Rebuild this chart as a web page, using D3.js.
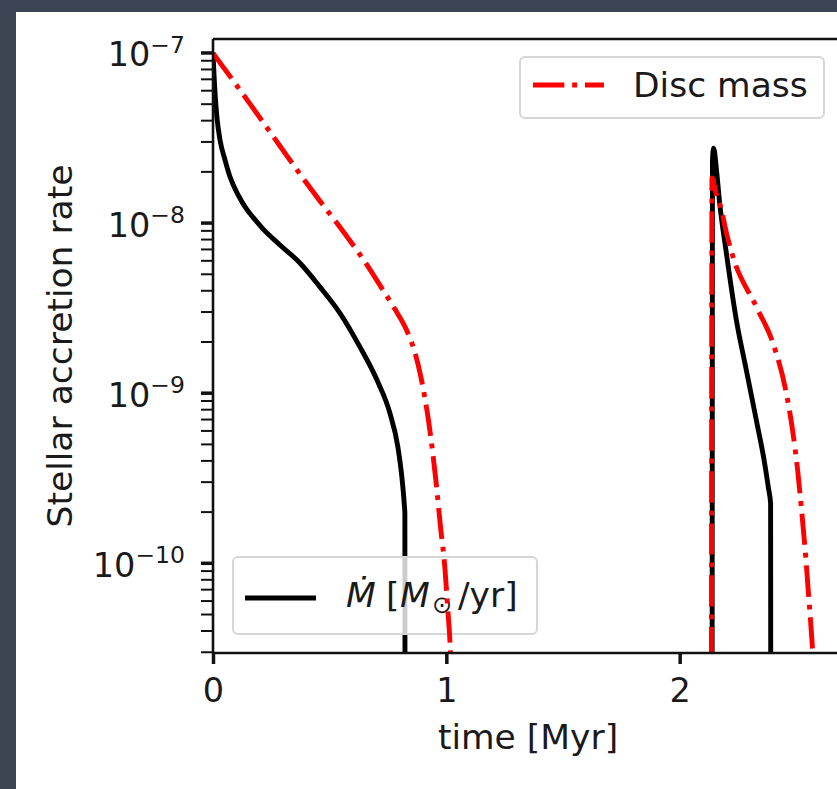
<!DOCTYPE html>
<html>
<head>
<meta charset="utf-8">
<script src="https://cdn.jsdelivr.net/npm/d3@7"></script>
<style>
  html, body { margin: 0; padding: 0; background: #3d4454; }
  svg { display: block; }
  text { font-family: "DejaVu Sans", sans-serif; fill: #1a1a1a; }
</style>
</head>
<body>
<div id="chart"></div>
<script>
// stellar accretion rate, black solid (0 = no accretion)
var mdotTime = [0, 0.0043, 0.0107, 0.0171, 0.030, 0.0514, 0.0728, 0.107, 0.1456, 0.1799,
                0.2141, 0.2869, 0.3726, 0.4582, 0.5439, 0.6296, 0.7024, 0.758, 0.7923,
                0.8094, 0.8201, 0.8223, 0.823,
                2.139, 2.1405, 2.1456, 2.1585, 2.1713, 2.2, 2.2428, 2.2856, 2.3285,
                2.364, 2.3812, 2.3897, 2.3905, 2.7];
var mdotVal  = [1.0e-7, 7.4e-8, 5.27e-8, 4.13e-8, 3.06e-8, 2.34e-8, 1.86e-8, 1.46e-8, 1.19e-8, 1.04e-8,
                9.18e-9, 7.39e-9, 5.79e-9, 4.19e-9, 2.94e-9, 1.86e-9, 1.19e-9, 7.6e-10, 4.8e-10,
                3.19e-10, 2.18e-10, 1.96e-10, 0,
                0, 2.3e-8, 2.74e-8, 1.99e-8, 1.31e-8, 6.64e-9, 2.68e-9, 1.36e-9, 6.9e-10,
                3.86e-10, 2.71e-10, 2.24e-10, 0, 0];

// disc mass, red dash-dot
var discTime = [0, 0.1585, 0.2869, 0.3726, 0.4582, 0.5653, 0.651, 0.7281, 0.7794, 0.8308,
                0.8651, 0.8908, 0.9251, 0.955, 0.9764, 0.9936, 1.0064, 1.0171, 1.025,
                2.1355, 2.1385, 2.154, 2.1786, 2.2013, 2.2283, 2.3285, 2.3996, 2.457,
                2.484, 2.5054, 2.5225, 2.5396, 2.5525, 2.5653, 2.5717, 2.58, 2.7];
var discVal  = [9.9e-8, 4.99e-8, 2.82e-8, 1.93e-8, 1.34e-8, 8.59e-9, 5.88e-9, 4.02e-9, 3.1e-9, 2.31e-9,
                1.73e-9, 1.24e-9, 6.63e-10, 3.07e-10, 1.56e-10, 9.4e-11, 5.27e-11, 3.06e-11, 0,
                0, 1.83e-8, 1.52e-8, 1.19e-8, 8.6e-9, 6.31e-9, 3.2e-9, 1.96e-9, 9.95e-10,
                6.0e-10, 3.52e-10, 2.04e-10, 1.11e-10, 6.45e-11, 3.76e-11, 2.7e-11, 0, 0];

var xTicks = [0, 1, 2];
var yMajor = [-7, -8, -9, -10];   // exponents

var width = 837, height = 789;
var plot = {left: 213, right: 843, top: 39, bottom: 653};

var svg = d3.select("#chart").append("svg")
    .attr("width", width)
    .attr("height", height);

// white slide panel
svg.append("rect")
   .attr("x", 16).attr("y", 12)
   .attr("width", width - 16).attr("height", height - 12)
   .attr("fill", "#fff");

var x = d3.scaleLinear().domain([0, 2.7]).range([plot.left, plot.right]);
var y = d3.scaleLog().domain([2.95e-11, 1.2e-7]).range([plot.bottom, plot.top]);

svg.append("clipPath").attr("id", "clip")
   .append("rect")
   .attr("x", plot.left).attr("y", plot.top)
   .attr("width", plot.right - plot.left).attr("height", plot.bottom - plot.top);

// non positive values go below the axis, like a clipped log plot
function yPos(v) { return v > 0 ? y(v) : plot.bottom + 60; }

var line = d3.line()
    .x(function(d) { return x(d[0]); })
    .y(function(d) { return yPos(d[1]); })
    .curve(d3.curveMonotoneX);

var mdotData = d3.zip(mdotTime, mdotVal);
var discData = d3.zip(discTime, discVal);

var lw = 4.9;
var dashDot = [6.4 * lw, 1.6 * lw, 1 * lw, 1.6 * lw].join(",");

// black line
svg.append("path")
   .datum(mdotData)
   .attr("clip-path", "url(#clip)")
   .attr("d", line)
   .attr("fill", "none")
   .attr("stroke", "#000")
   .attr("stroke-width", lw)
   .attr("stroke-linejoin", "round");

// legend for the accretion rate (bottom left)
var leg2 = svg.append("g");
leg2.append("rect")
    .attr("x", 233).attr("y", 557).attr("width", 304).attr("height", 77)
    .attr("rx", 5)
    .attr("fill", "#fff").attr("fill-opacity", 0.8)
    .attr("stroke", "#d6d6d6").attr("stroke-width", 2);
leg2.append("line")
    .attr("x1", 245).attr("x2", 316).attr("y1", 598).attr("y2", 598)
    .attr("stroke", "#000").attr("stroke-width", lw);
var t2 = leg2.append("text").attr("y", 607).attr("font-size", 34.5);
t2.append("tspan").attr("x", 346).attr("font-style", "italic").text("\u1E40");
t2.append("tspan").attr("x", 386).text("[");
t2.append("tspan").attr("x", 400).attr("font-style", "italic").text("M");
t2.append("tspan").attr("x", 432).attr("dy", 6).attr("font-size", 24).text("\u2299");
t2.append("tspan").attr("x", 458).attr("dy", -6).text("/yr]");

// red dash-dot line
svg.append("path")
   .datum(discData)
   .attr("clip-path", "url(#clip)")
   .attr("d", line)
   .attr("fill", "none")
   .attr("stroke", "#ff0000")
   .attr("stroke-width", lw)
   .attr("stroke-dasharray", dashDot)
   .attr("stroke-linejoin", "round");

// legend for disc mass (top right)
var leg1 = svg.append("g");
leg1.append("rect")
    .attr("x", 520).attr("y", 57).attr("width", 304).attr("height", 61)
    .attr("rx", 5)
    .attr("fill", "#fff").attr("fill-opacity", 0.8)
    .attr("stroke", "#d6d6d6").attr("stroke-width", 2);
leg1.append("line")
    .attr("x1", 533).attr("x2", 604).attr("y1", 85).attr("y2", 85)
    .attr("stroke", "#ff0000").attr("stroke-width", lw)
    .attr("stroke-dasharray", dashDot);
leg1.append("text")
    .attr("x", 633).attr("y", 97)
    .attr("font-size", 34.5)
    .text("Disc mass");

// spines
var spines = svg.append("g").attr("stroke", "#111").attr("stroke-width", 2.6);
spines.append("line").attr("x1", plot.left).attr("x2", plot.left)
      .attr("y1", plot.top).attr("y2", plot.bottom);
spines.append("line").attr("x1", plot.left).attr("x2", plot.right)
      .attr("y1", plot.top).attr("y2", plot.top);
spines.append("line").attr("x1", plot.left).attr("x2", plot.right)
      .attr("y1", plot.bottom).attr("y2", plot.bottom);

// x axis
var xAxis = svg.append("g")
   .attr("transform", "translate(0," + plot.bottom + ")")
   .call(d3.axisBottom(x).tickValues(xTicks).tickSize(11).tickFormat(d3.format("d")));
xAxis.select(".domain").remove();
xAxis.selectAll(".tick line").attr("stroke", "#111").attr("stroke-width", 3.5);
xAxis.selectAll(".tick text")
   .attr("y", 49).attr("dy", 0)
   .attr("font-size", 33.5)
   .attr("font-family", "DejaVu Sans, sans-serif")
   .attr("fill", "#1a1a1a");

// y axis: minor then major ticks
var yMinor = [];
for (var e = -11; e <= -7; e++) {
  for (var k = 2; k <= 9; k++) {
    var v = k * Math.pow(10, e);
    if (v >= y.domain()[0] && v <= y.domain()[1]) yMinor.push(v);
  }
}
var yMinorAxis = svg.append("g")
   .attr("transform", "translate(" + plot.left + ",0)")
   .call(d3.axisLeft(y).tickValues(yMinor).tickSize(12).tickFormat(""));
yMinorAxis.select(".domain").remove();
yMinorAxis.selectAll(".tick line").attr("stroke", "#111").attr("stroke-width", 2);

var yMajorAxis = svg.append("g")
   .attr("transform", "translate(" + plot.left + ",0)")
   .call(d3.axisLeft(y).tickValues(yMajor.map(function(p) { return Math.pow(10, p); }))
         .tickSize(12).tickFormat(""));
yMajorAxis.select(".domain").remove();
yMajorAxis.selectAll(".tick line").attr("stroke", "#111").attr("stroke-width", 3.5);

// tick labels 10^n with superscript
yMajor.forEach(function(p) {
  var ty = y(Math.pow(10, p));
  var t = svg.append("text")
     .attr("x", 185).attr("y", ty + 14)
     .attr("text-anchor", "end")
     .attr("font-size", 33.5);
  t.append("tspan").text("10");
  t.append("tspan").attr("dy", -13.5).attr("font-size", 23.5).text("\u2212" + Math.abs(p));
});

// axis labels
svg.append("text")
   .attr("x", (plot.left + plot.right) / 2).attr("y", 749)
   .attr("text-anchor", "middle")
   .attr("font-size", 34.5)
   .text("time [Myr]");

svg.append("text")
   .attr("transform", "translate(72," + (plot.top + plot.bottom) / 2 + ") rotate(-90)")
   .attr("text-anchor", "middle")
   .attr("font-size", 34.5)
   .text("Stellar accretion rate");
</script>
</body>
</html>
